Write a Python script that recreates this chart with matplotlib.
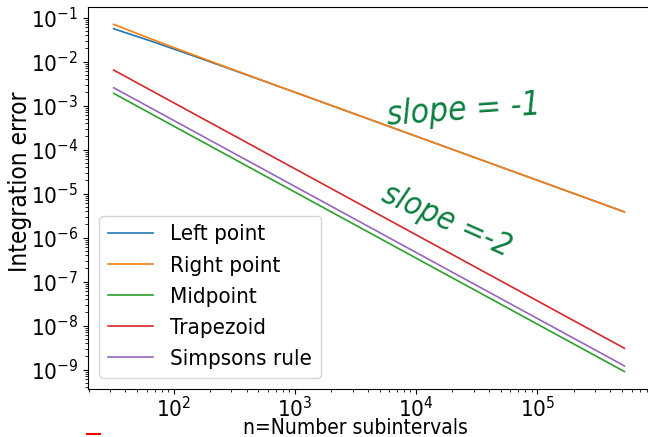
import matplotlib
matplotlib.use("Agg")

import matplotlib.pyplot as plt
from matplotlib import font_manager
from matplotlib.lines import Line2D
from matplotlib.ticker import LogLocator, NullFormatter

# number of subintervals, n = 2^5 ... 2^19
n_values = [32, 64, 128, 256, 512, 1024, 2048, 4096, 8192, 16384,
            32768, 65536, 131072, 262144, 524288]

left_err = [5.56e-2, 2.96e-2, 1.525e-2, 7.74e-3, 3.898e-3, 1.956e-3, 9.80e-4,
            4.903e-4, 2.453e-4, 1.227e-4, 6.134e-5, 3.067e-5, 1.534e-5,
            7.67e-6, 3.83e-6]
right_err = [7.00e-2, 3.32e-2, 1.616e-2, 7.96e-3, 3.954e-3, 1.970e-3, 9.83e-4,
             4.912e-4, 2.454e-4, 1.227e-4, 6.134e-5, 3.067e-5, 1.534e-5,
             7.67e-6, 3.83e-6]
mid_err = [1.89e-3, 6.68e-4, 2.36e-4, 8.35e-5, 2.95e-5, 1.044e-5, 3.69e-6,
           1.305e-6, 4.61e-7, 1.631e-7, 5.77e-8, 2.04e-8, 7.21e-9, 2.55e-9,
           9.01e-10]
trap_err = [6.40e-3, 2.263e-3, 8.00e-4, 2.83e-4, 1.00e-4, 3.54e-5, 1.25e-5,
            4.42e-6, 1.5625e-6, 5.52e-7, 1.953e-7, 6.91e-8, 2.44e-8, 8.63e-9,
            3.05e-9]
simp_err = [2.54e-3, 8.98e-4, 3.175e-4, 1.123e-4, 3.97e-5, 1.403e-5, 4.96e-6,
            1.754e-6, 6.20e-7, 2.19e-7, 7.75e-8, 2.74e-8, 9.69e-9, 3.43e-9,
            1.211e-9]

labels = ["Left point", "Right point", "Midpoint", "Trapezoid", "Simpsons rule"]

plt.rcParams["font.size"] = 16
plt.rcParams["mathtext.fontset"] = "dejavusans"

# the reference looks horizontally squeezed, use a condensed face if there is one
names = {f.name for f in font_manager.fontManager.ttflist}
if "DejaVu Sans Condensed" in names:
    plt.rcParams["font.family"] = ["DejaVu Sans Condensed", "DejaVu Sans"]
else:
    plt.rcParams["font.stretch"] = "condensed"

fig = plt.figure(figsize=(6.48, 4.37), dpi=100)
ax = fig.add_axes([0.136, 0.110, 0.867, 0.874])

for err, lab in zip([left_err, right_err, mid_err, trap_err, simp_err], labels):
    ax.loglog(n_values, err, label=lab, linewidth=1.2)

ax.yaxis.set_major_locator(LogLocator(base=10, numticks=20))
ax.yaxis.set_minor_locator(LogLocator(base=10, subs=range(2, 10), numticks=20))
ax.yaxis.set_minor_formatter(NullFormatter())
ax.tick_params(axis="x", which="major", pad=1.5)

ax.set_xlabel("n=Number subintervals", fontsize=15)
# vertical text is not squeezed in the reference, so normal width here
ax.set_ylabel("Integration error", family="DejaVu Sans", fontsize=17.5)
ax.xaxis.set_label_coords(0.475, -0.075)
ax.yaxis.set_label_coords(-0.100, 0.542)

ax.legend(loc="lower left", fontsize=16, borderaxespad=0.5)

# handwritten notes
note_color = "#0b7d3e"
ax.text(0.53, 0.73, "slope = -1", transform=ax.transAxes, color=note_color,
        fontsize=24, style="italic", rotation=4, ha="left", va="center")
ax.text(0.515, 0.44, "slope =-2", transform=ax.transAxes, color=note_color,
        fontsize=23, style="italic", rotation=-24, ha="left", va="center")

# stray red pen mark
fig.add_artist(Line2D([0.134, 0.154], [0.006, 0.006], color="red", linewidth=1.5))

fig.savefig("out.png", dpi=100)
